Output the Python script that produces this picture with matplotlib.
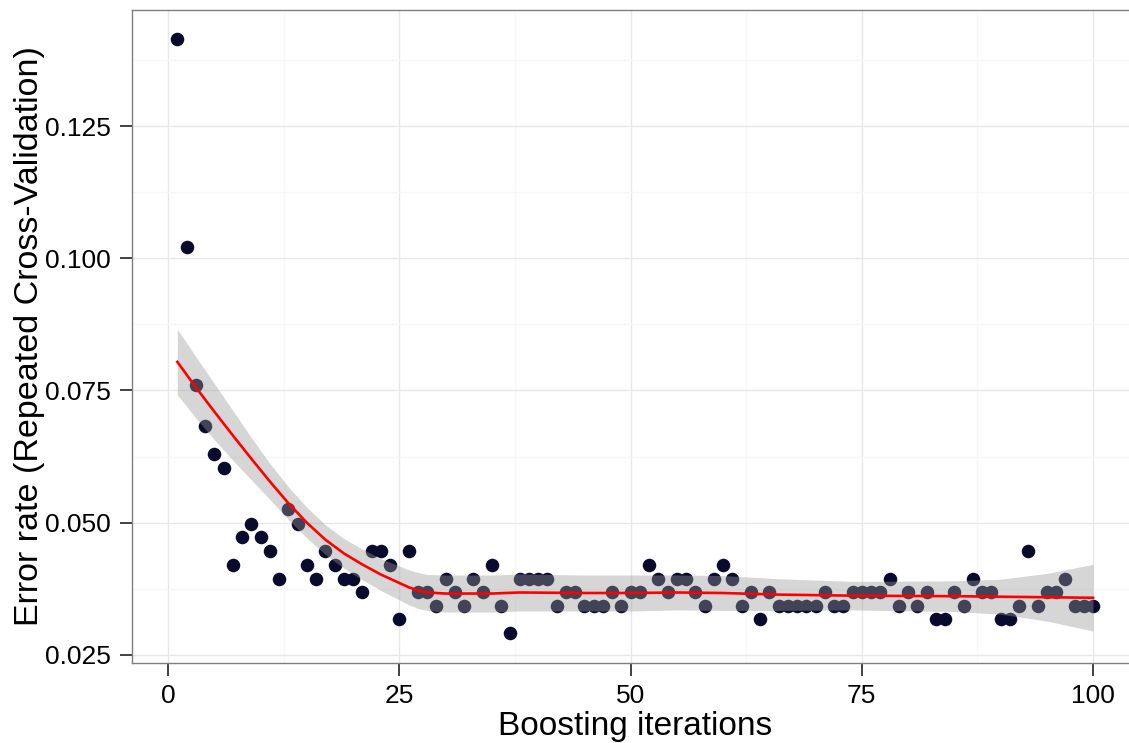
import numpy as np
import matplotlib.pyplot as plt

plt.rcParams['font.family'] = ['Liberation Sans', 'DejaVu Sans']

# cross-validated error rate per boosting iteration
iterations = list(range(1, 101))
error_rate = [
    0.1414, 0.1022, 0.0761, 0.0683, 0.0630, 0.0604, 0.0420, 0.0472, 0.0498, 0.0472,
    0.0446, 0.0394, 0.0525, 0.0498, 0.0420, 0.0394, 0.0446, 0.0420, 0.0394, 0.0394,
    0.0368, 0.0446, 0.0446, 0.0420, 0.0317, 0.0446, 0.0368, 0.0368, 0.0343, 0.0394,
    0.0368, 0.0343, 0.0394, 0.0368, 0.0420, 0.0343, 0.0291, 0.0394, 0.0394, 0.0394,
    0.0394, 0.0343, 0.0368, 0.0368, 0.0343, 0.0343, 0.0343, 0.0368, 0.0343, 0.0368,
    0.0368, 0.0420, 0.0394, 0.0368, 0.0394, 0.0394, 0.0368, 0.0343, 0.0394, 0.0420,
    0.0394, 0.0343, 0.0368, 0.0317, 0.0368, 0.0343, 0.0343, 0.0343, 0.0343, 0.0343,
    0.0368, 0.0343, 0.0343, 0.0368, 0.0368, 0.0368, 0.0368, 0.0394, 0.0343, 0.0368,
    0.0343, 0.0368, 0.0317, 0.0317, 0.0368, 0.0343, 0.0394, 0.0368, 0.0368, 0.0317,
    0.0317, 0.0343, 0.0446, 0.0343, 0.0368, 0.0368, 0.0394, 0.0343, 0.0343, 0.0343,
]

# smoother and its confidence half-width
smooth_x = [1, 3, 5, 7, 9, 11, 13, 15, 17, 19, 21, 23, 25, 26, 27, 28, 30,
            35, 38, 45, 50, 55, 60, 66, 74, 85, 90, 95, 100]
smooth_y = [0.0804, 0.0756, 0.0710, 0.0665, 0.0621, 0.0578, 0.0537, 0.0500,
            0.0468, 0.0442, 0.0421, 0.0402, 0.0386, 0.0378, 0.0372, 0.0368,
            0.0366, 0.0366, 0.0368, 0.0367, 0.0367, 0.0368, 0.0367, 0.0364,
            0.0362, 0.0361, 0.0360, 0.0359, 0.0358]
smooth_se = [0.0062, 0.0058, 0.0053, 0.0047, 0.0040, 0.0034, 0.0031, 0.0029,
             0.0028, 0.0028, 0.0029, 0.0030, 0.0032, 0.0033, 0.0034, 0.0034,
             0.0035, 0.0035, 0.0035, 0.0034, 0.0034, 0.0033, 0.0033, 0.0030,
             0.0027, 0.0029, 0.0033, 0.0045, 0.0063]

x_ticks = [0, 25, 50, 75, 100]
y_ticks = [0.025, 0.050, 0.075, 0.100, 0.125]

fig = plt.figure(figsize=(11.29, 7.43), dpi=100)
ax = fig.add_axes([0.1165, 0.1078, 0.8922, 0.8793])

sx = np.array(smooth_x)
sy = np.array(smooth_y)
se = np.array(smooth_se)

ax.scatter(iterations, error_rate, s=95, color='#0a0a2e', linewidths=0, zorder=3)
ax.fill_between(sx, sy - se, sy + se, color='#999999', alpha=0.4, linewidth=0, zorder=4)
ax.plot(sx, sy, color='#ff0000', lw=1.9, zorder=5)

# ggplot-like expansion of 5 %
xr = max(iterations) - min(iterations)
yr = max(error_rate) - min(error_rate)
ax.set_xlim(min(iterations) - 0.05 * xr, max(iterations) + 0.05 * xr)
ax.set_ylim(min(error_rate) - 0.05 * yr, max(error_rate) + 0.05 * yr)

ax.set_xticks(x_ticks)
ax.set_xticklabels([str(t) for t in x_ticks])
ax.set_yticks(y_ticks)
ax.set_yticklabels(['%.3f' % t for t in y_ticks])
ax.set_xticks([12.5, 37.5, 62.5, 87.5], minor=True)
ax.set_yticks([0.0375, 0.0625, 0.0875, 0.1125, 0.1375], minor=True)

ax.grid(which='major', color='#e8e8e8', lw=1.0, zorder=0)
ax.grid(which='minor', color='#f7f7f7', lw=1.0, zorder=0)
ax.set_axisbelow(True)

ax.tick_params(which='major', length=9, width=1.2, color='#222222',
               labelsize=19, labelcolor='black', pad=6)
ax.tick_params(which='minor', length=0)
for s in ax.spines.values():
    s.set_color('#7f7f7f')
    s.set_linewidth(1.0)

ax.set_xlabel('Boosting iterations', fontsize=24, labelpad=2.5)
ax.set_ylabel('Error rate (Repeated Cross-Validation)', fontsize=24.5, labelpad=0)

fig.savefig('out.png', dpi=100)
